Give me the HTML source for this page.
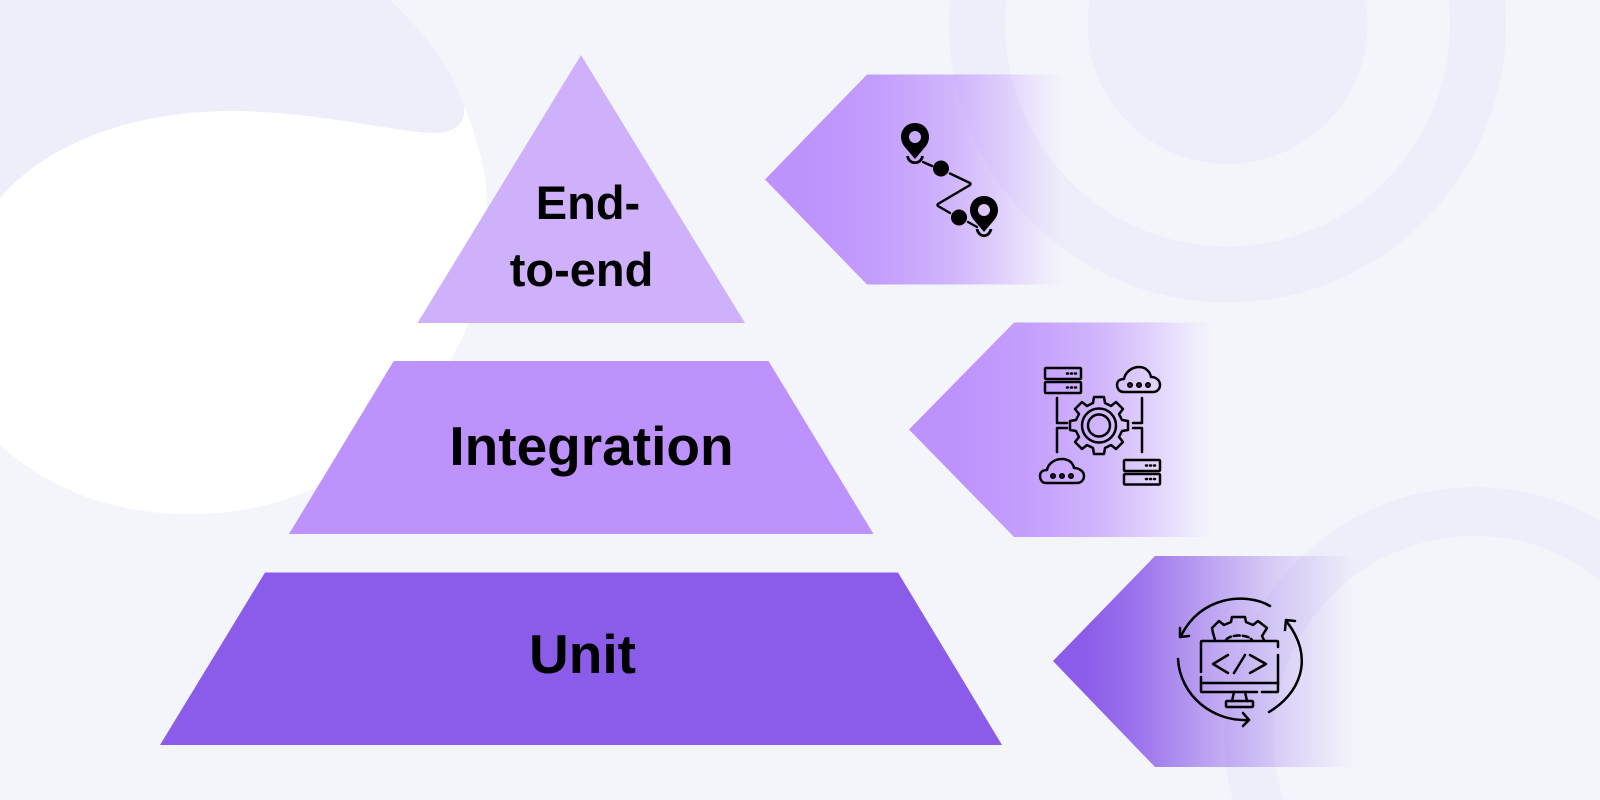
<!DOCTYPE html>
<html>
<head>
<meta charset="utf-8">
<style>
html,body{margin:0;padding:0;background:#f4f5fb;width:1600px;height:800px;overflow:hidden}
svg{display:block;overflow:hidden}
text{font-family:"Liberation Sans",sans-serif;font-weight:700;fill:#000;text-anchor:middle}
</style>
</head>
<body>
<svg width="1600" height="800" viewBox="0 0 1600 800" xmlns="http://www.w3.org/2000/svg">
<defs>
<linearGradient id="g1" gradientUnits="userSpaceOnUse" x1="765" y1="0" x2="1065" y2="0">
<stop offset="0" stop-color="#bd92fd"/><stop offset=".15" stop-color="#bd92fd"/><stop offset=".39" stop-color="#bd92fd" stop-opacity=".87"/><stop offset=".62" stop-color="#bd92fd" stop-opacity=".65"/><stop offset=".78" stop-color="#bd92fd" stop-opacity=".38"/><stop offset=".92" stop-color="#bd92fd" stop-opacity=".12"/><stop offset="1" stop-color="#bd92fd" stop-opacity="0"/>
</linearGradient>
<linearGradient id="g2" gradientUnits="userSpaceOnUse" x1="909" y1="0" x2="1214" y2="0">
<stop offset="0" stop-color="#bd92fd"/><stop offset=".15" stop-color="#bd92fd"/><stop offset=".39" stop-color="#bd92fd" stop-opacity=".87"/><stop offset=".62" stop-color="#bd92fd" stop-opacity=".65"/><stop offset=".78" stop-color="#bd92fd" stop-opacity=".38"/><stop offset=".92" stop-color="#bd92fd" stop-opacity=".12"/><stop offset="1" stop-color="#bd92fd" stop-opacity="0"/>
</linearGradient>
<linearGradient id="g3" gradientUnits="userSpaceOnUse" x1="1053" y1="0" x2="1355" y2="0">
<stop offset="0" stop-color="#8b5be9"/><stop offset=".1" stop-color="#8b5be9"/><stop offset=".29" stop-color="#8b5be9" stop-opacity=".83"/><stop offset=".51" stop-color="#8b5be9" stop-opacity=".54"/><stop offset=".73" stop-color="#8b5be9" stop-opacity=".27"/><stop offset=".9" stop-color="#8b5be9" stop-opacity=".1"/><stop offset="1" stop-color="#8b5be9" stop-opacity="0"/>
</linearGradient>
</defs>

<rect width="1600" height="800" fill="#f4f5fb"/>

<!-- background shapes -->
<path d="M0 0H390C420 28 450 65 462 100C476 135 487 170 487 205C489 260 478 300 467 327C450 370 400 440 317 487C280 505 235 514 190 514C105 514 45 485 0 445Z" fill="#ffffff"/>
<path d="M0 0H390C420 28 450 65 462 100C467 113 466 133 433 133C390 131 310 111 232 111C130 111 45 145 0 198Z" fill="#edeefa"/>
<circle cx="1227.5" cy="24" r="250.5" fill="none" stroke="#edeefa" stroke-width="56"/>
<circle cx="1227.5" cy="24" r="140" fill="#edeefa"/>
<path d="M1232.600 800A250 250 0 0 1 1600 520.800V580A201 201 0 0 0 1283.600 800Z" fill="#edeefa"/>

<!-- pyramid -->
<polygon points="581,55 745,323 417.500,323" fill="#ceb0fb"/>
<polygon points="393.700,361 768.500,361 873.500,534 289,534" fill="#bd92fd"/>
<polygon points="265,572.500 898,572.500 1002,745 160,745" fill="#8b5be9"/>

<text x="588" y="219" font-size="47">End-</text>
<text x="581.500" y="286" font-size="47">to-end</text>
<text x="591.500" y="465" font-size="55">Integration</text>
<text x="582.500" y="673" font-size="55">Unit</text>

<!-- arrows -->
<polygon points="765,179.500 867,74.500 1065,74.500 1065,284.500 867,284.500" fill="url(#g1)"/>
<polygon points="909,429.500 1014,322.500 1214,322.500 1214,537 1014,537" fill="url(#g2)"/>
<polygon points="1053,661 1155,556 1355,556 1355,767 1155,767" fill="url(#g3)"/>

<!-- route icon -->
<g>
<path fill-rule="evenodd" d="M915 159L904 146C902 143 901 140 901 137C901 129 907 123 915 123C923 123 929 129 929 137C929 140 928 143 926 146ZM915 131A6 6 0 1 0 915 143A6 6 0 1 0 915 131Z" fill="#000"/>
<path d="M907.500 156C909 165 921 165 922.500 156" fill="none" stroke="#000" stroke-width="2.800"/>
<path d="M923 162L932 166M950 173.500L970 183Q971 184 970 185L938 204Q937 205 938 206L950 213M968 222L977 227" fill="none" stroke="#000" stroke-width="2.400" stroke-linecap="round"/>
<circle cx="941" cy="168.500" r="8" fill="#000"/>
<circle cx="959" cy="217.500" r="8" fill="#000"/>
<path fill-rule="evenodd" d="M984 232L973 219C971 216 970 213 970 210C970 202 976 196 984 196C992 196 998 202 998 210C998 213 997 216 995 219ZM984 204A6 6 0 1 0 984 216A6 6 0 1 0 984 204Z" fill="#000"/>
<path d="M977 229C979 238 989 238 991 229" fill="none" stroke="#000" stroke-width="2.800"/>
</g>

<!-- integration icon -->
<g fill="none" stroke="#000" stroke-width="2.500" stroke-linejoin="round" stroke-linecap="round">
<rect x="1045" y="368" width="36" height="11" rx="1"/>
<rect x="1045" y="382" width="36" height="11" rx="1"/>
<path d="M1067 373.500h1M1071 373.500h1M1075 373.500h1M1067 387.500h1M1071 387.500h1M1075 387.500h1"/>
<path d="M1124 392C1118 392 1117 387 1117 385C1117 381 1120 379 1124 379C1125 373 1131 367 1139 367C1146 367 1150 372 1151 377C1157 377 1160 381 1160 385C1160 389 1157 392 1153 392Z"/>
<circle cx="1130" cy="385" r="1.800"/><circle cx="1139" cy="385" r="1.800"/><circle cx="1148" cy="385" r="1.800"/>
<path d="M1046 483C1041 483 1040 478 1040 476C1040 472 1043 470 1047 470C1048 464 1054 459 1062 459C1069 459 1073 463 1074 468C1080 468 1084 472 1084 476C1084 480 1081 483 1077 483Z"/>
<circle cx="1053" cy="476" r="1.800"/><circle cx="1062" cy="476" r="1.800"/><circle cx="1071" cy="476" r="1.800"/>
<rect x="1124" y="460" width="36" height="11" rx="1"/>
<rect x="1124" y="474" width="36" height="10.500" rx="1"/>
<path d="M1146 465.500h1M1150 465.500h1M1154 465.500h1M1146 479h1M1150 479h1M1154 479h1"/>
<path d="M1057 398V423H1067M1057 452V428H1067M1142 398V423H1133M1142 452V428H1133"/>
<path d="M1094 397H1104L1105 403L1111 406L1116 402L1123 409L1119 414L1122 420L1128 421V430L1122 431L1119 437L1123 442L1116 449L1111 445L1105 448L1104 454H1094L1093 448L1087 445L1082 449L1075 442L1079 437L1076 431L1070 430V421L1076 420L1079 414L1075 409L1082 402L1087 406L1093 403Z"/>
<circle cx="1099" cy="425.500" r="17"/>
<circle cx="1099" cy="425.500" r="11"/>
</g>

<!-- unit icon -->
<g fill="none" stroke="#000" stroke-width="2.500" stroke-linecap="round" stroke-linejoin="round">
<path d="M1215 640L1213 633L1212 628L1219 621L1224 625L1231 622L1232 617H1245L1246 622L1253 625L1258 621L1267 628L1262 636L1264 640"/>
<path d="M1226 640C1230 634 1248 634 1252 640" stroke-dasharray="6 3"/>
<path d="M1278 647V642Q1278 641 1277 641H1202Q1201 641 1201 642V672M1201 677V691Q1201 692 1202 692H1257M1262 692H1277Q1278 692 1278 691V655"/>
<path d="M1201 683H1278"/>
<path d="M1228 655L1213 664L1228 673M1250 655L1266 664L1250 673M1245 655L1234 673"/>
<path d="M1234 692L1232 701M1245 692L1247 701"/>
<rect x="1226" y="701" width="27" height="6" rx="1"/>
<path d="M1270 606C1246 592 1200 596 1181 636"/>
<path d="M1180 628L1180 637L1189 636"/>
<path d="M1178 659C1180 695 1212 722 1249 720"/>
<path d="M1243 713L1249 720L1243 726"/>
<path d="M1269 712C1298 695 1316 660 1287 622"/>
<path d="M1285 630L1286 620L1295 621"/>
</g>
</svg>
</body>
</html>
